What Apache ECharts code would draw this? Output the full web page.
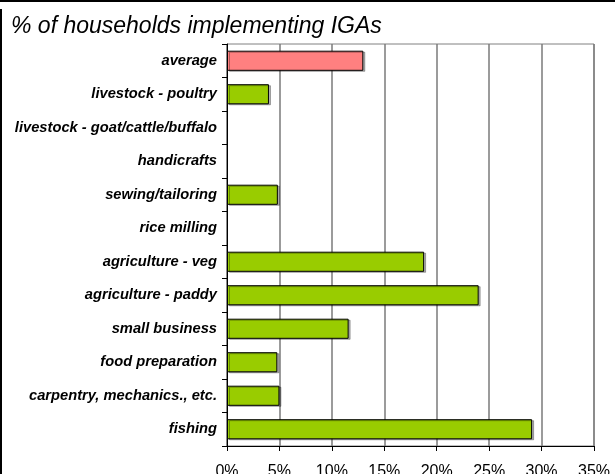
<!DOCTYPE html>
<html>
<head>
<meta charset="utf-8">
<script src="https://cdn.jsdelivr.net/npm/echarts@6/dist/echarts.min.js"></script>
<style>
html,body{margin:0;padding:0;background:#fff;}
#c{width:615px;height:474px;}
</style>
</head>
<body>
<div id="c"></div>
<script>
const titleText = '% of households implementing IGAs';
const categories = [
  'average',
  'livestock - poultry',
  'livestock - goat/cattle/buffalo',
  'handicrafts',
  'sewing/tailoring',
  'rice milling',
  'agriculture - veg',
  'agriculture - paddy',
  'small business',
  'food preparation',
  'carpentry, mechanics., etc.',
  'fishing'
];
const values = [13, 4, 0, 0, 4.85, 0, 18.8, 24, 11.6, 4.8, 5, 29.1];
const highlightCategory = 'average';
const xMin = 0, xMax = 35, xStep = 5;

const chart = echarts.init(document.getElementById('c'), null, {renderer: 'canvas'});
chart.setOption({
  animation: false,
  backgroundColor: '#ffffff',
  title: {
    text: titleText,
    left: 6, top: 10,
    textStyle: {fontFamily: 'Liberation Sans', fontStyle: 'italic', fontWeight: 'normal', fontSize: 23, color: '#000'}
  },
  graphic: [
    {type: 'rect', shape: {x: 0, y: 0, width: 615, height: 2}, style: {fill: '#000'}},
    {type: 'rect', shape: {x: 0, y: 9, width: 2, height: 465}, style: {fill: '#000'}}
  ],
  grid: {
    left: 227, top: 44, right: 21, bottom: 28,
    outerBoundsMode: 'none', containLabel: false,
    show: true, borderColor: '#808080', borderWidth: 1, backgroundColor: 'transparent'
  },
  xAxis: {
    type: 'value',
    min: xMin, max: xMax, interval: xStep,
    axisLine: {show: true, lineStyle: {color: '#000', width: 1}},
    axisTick: {show: true, length: 5, lineStyle: {color: '#000'}},
    axisLabel: {formatter: '{value}%', margin: 18, fontFamily: 'Liberation Sans', fontSize: 16, color: '#000'},
    splitLine: {show: true, lineStyle: {color: '#7a7a7a', width: 1.5}}
  },
  yAxis: {
    type: 'category',
    data: categories,
    inverse: true,
    axisLine: {show: true, lineStyle: {color: '#000', width: 1}},
    axisTick: {show: true, length: 5, lineStyle: {color: '#000'}},
    axisLabel: {margin: 10, fontFamily: 'Liberation Sans', fontStyle: 'italic', fontWeight: 'bold', fontSize: 14.7, color: '#000'},
    splitLine: {show: false}
  },
  series: [{
    type: 'bar',
    data: values.map((v, i) => ({
      value: v,
      itemStyle: v === 0
        ? {opacity: 0}
        : {color: categories[i] === highlightCategory ? '#FF8080' : '#99CC00'}
    })),
    barCategoryGap: '40%',
    itemStyle: {
      borderColor: '#000', borderWidth: 1,
      shadowColor: 'rgba(0,0,0,0.3)', shadowOffsetX: 2, shadowOffsetY: 1, shadowBlur: 0
    }
  }]
});
</script>
</body>
</html>
